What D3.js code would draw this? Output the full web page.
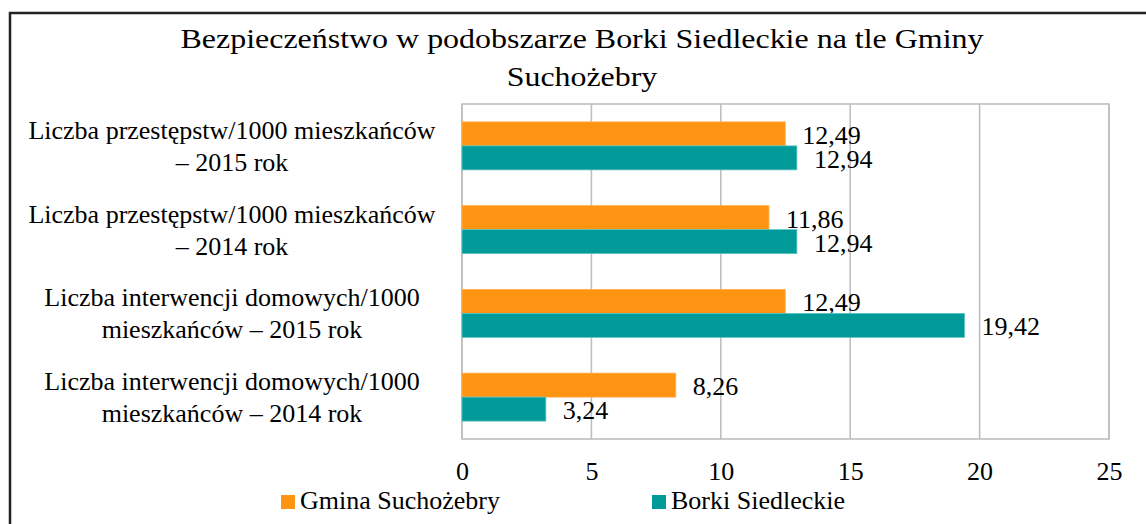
<!DOCTYPE html>
<html><head><meta charset="utf-8">
<script src="https://cdn.jsdelivr.net/npm/d3@7"></script>
<style>body{margin:0;background:#fff}svg{display:block}</style>
</head><body><svg id="c" width="1146" height="524"></svg>
<script>
const categories = [
  ["Liczba przestępstw/1000 mieszkańców", "–  2015 rok"],
  ["Liczba przestępstw/1000 mieszkańców", "– 2014 rok"],
  ["Liczba interwencji domowych/1000", "mieszkańców – 2015 rok"],
  ["Liczba interwencji domowych/1000", "mieszkańców – 2014 rok"]
];
const seriesNames = ["Gmina Suchożebry", "Borki Siedleckie"];
const gminaValues = [12.49, 11.86, 12.49, 8.26];
const borkiValues = [12.94, 12.94, 19.42, 3.24];
const xTicks = [0, 5, 10, 15, 20, 25];
const colors = ["#FF9412", "#009A99"];
const titleLines = ["Bezpieczeństwo w podobszarze Borki Siedleckie na tle Gminy", "Suchożebry"];

const FONT = "'Liberation Serif', 'DejaVu Serif', serif";
const st = px => `font-family:${FONT};font-size:${px}px;fill:#000`;

const svg = d3.select("#c");
svg.append("rect").attr("x", 10).attr("y", 13).attr("width", 1160).attr("height", 540)
  .attr("fill", "none").attr("stroke", "#222").attr("stroke-width", 2.5);

const L = 462, R = 1109, T = 104, B = 439;
const x = d3.scaleLinear().domain([0, 25]).range([L, R]);
const idx = categories.map((d, i) => i);
const y = d3.scaleBand().domain(idx).range([T, B]).paddingInner(0.427).paddingOuter(0.2135);
const ys = d3.scaleBand().domain([0, 1]).range([0, y.bandwidth()]);

const titleW = [803, null];
svg.append("g").selectAll("text").data(titleLines).join("text")
  .attr("x", 582).attr("y", (d, i) => 48 + i * 38)
  .attr("text-anchor", "middle").attr("style", st(28))
  .each(function (d, i) {
    if (titleW[i]) d3.select(this).attr("textLength", titleW[i]).attr("lengthAdjust", "spacingAndGlyphs");
    else d3.select(this).attr("transform", "translate(582,0) scale(1.14,1) translate(-582,0)");
  })
  .text(d => d);

svg.append("g").selectAll("line").data(xTicks).join("line")
  .attr("x1", d => x(d)).attr("x2", d => x(d)).attr("y1", T).attr("y2", B)
  .attr("stroke", "#BFBFBF").attr("stroke-width", 1.6);
svg.append("rect").attr("x", L).attr("y", T).attr("width", R - L).attr("height", B - T)
  .attr("fill", "none").attr("stroke", "#BFBFBF").attr("stroke-width", 1.6);

const ax = svg.append("g").attr("transform", `translate(0,${B})`)
  .call(d3.axisBottom(x).tickValues(xTicks).tickSize(0).tickPadding(0).tickFormat(d3.format("d")));
ax.select(".domain").remove();
ax.selectAll("text").attr("style", st(26)).attr("dy", null).attr("y", 41);

const cl = svg.append("g").selectAll("text").data(categories).join("text")
  .attr("text-anchor", "middle").attr("style", st(26))
  .attr("transform", (d, i) => `translate(232,${y(i) + y.bandwidth() / 2})`);
cl.selectAll("tspan").data(d => d).join("tspan")
  .attr("x", 0).attr("y", (d, j) => j === 0 ? -7 : 25).text(d => d);

const series = [gminaValues, borkiValues];
const fmt = v => d3.format(".2f")(v).replace(".", ",");
series.forEach((vals, s) => {
  const g = svg.append("g");
  g.selectAll("rect").data(vals).join("rect")
    .attr("x", x(0)).attr("y", (d, i) => y(i) + ys(s))
    .attr("width", d => x(d) - x(0)).attr("height", ys.bandwidth())
    .attr("fill", colors[s]).attr("stroke", s === 0 ? "#FFB04D" : "#5CC4C2").attr("stroke-width", 0.8);
  g.selectAll("text").data(vals).join("text")
    .attr("x", d => x(d) + 17).attr("y", (d, i) => y(i) + ys(s) + ys.bandwidth() / 2 + 10)
    .attr("style", st(26)).text(d => fmt(d));
});

const lx = [281, 652];
const lg = svg.append("g").selectAll("g").data(seriesNames).join("g")
  .attr("transform", (d, i) => `translate(${lx[i]},495)`);
lg.append("rect").attr("width", 14).attr("height", 14).attr("fill", (d, i) => colors[i]);
lg.append("text").attr("x", 19).attr("y", 14).attr("style", st(26)).text(d => d);
</script></body></html>
